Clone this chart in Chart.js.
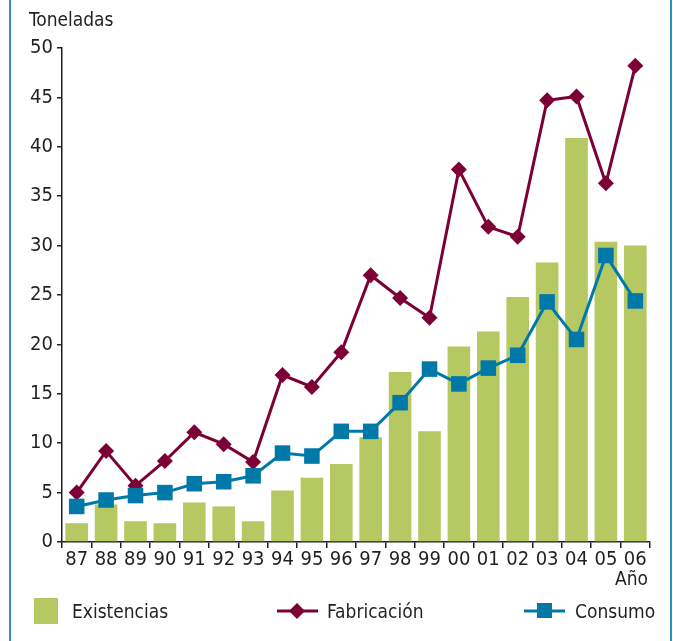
<!DOCTYPE html>
<html>
<head>
<meta charset="utf-8">
<script src="https://cdn.jsdelivr.net/npm/chart.js@4.4.1/dist/chart.umd.min.js"></script>
<style>
  html, body { margin:0; padding:0; background:#fff; }
  #wrap { position:relative; width:673px; height:641px; overflow:hidden; font-family:'Liberation Sans Narrow','DejaVu Sans Condensed',sans-serif; color:#231f20; }
  #c { position:absolute; left:0; top:0; }
  .frame { position:absolute; top:0; width:2px; height:641px; background:#2e8fbd; }
  .txt { position:absolute; white-space:nowrap; font-size:19px; line-height:1; }
</style>
</head>
<body>
<div id="wrap">
  <canvas id="c" width="673" height="641"></canvas>
  <div class="frame" style="left:9px"></div>
  <div class="frame" style="left:670px"></div>
  <div class="txt" id="ytitle" style="left:29px; top:10px;">Toneladas</div>
  <div class="txt" id="xtitle" style="right:25px; top:569px;">Año</div>
  <div class="txt" style="left:34px; top:598px; width:24px; height:26px; background:#b5c862;"></div>
  <div class="txt" style="left:72px; top:602px;">Existencias</div>
  <svg style="position:absolute; left:276px; top:601px;" width="44" height="20">
    <line x1="1" y1="10" x2="42" y2="10" stroke="#7c0036" stroke-width="3"/>
    <polygon points="21,2 29,10 21,18 13,10" fill="#7c0036"/>
  </svg>
  <div class="txt" style="left:327px; top:602px;">Fabricación</div>
  <svg style="position:absolute; left:523px; top:601px;" width="44" height="20">
    <line x1="1" y1="10" x2="42" y2="10" stroke="#0079a8" stroke-width="3"/>
    <rect x="14" y="2" width="15" height="15" fill="#0079a8"/>
  </svg>
  <div class="txt" style="left:575px; top:602px;">Consumo</div>
</div>
<script>
const years = ['87','88','89','90','91','92','93','94','95','96','97','98','99','00','01','02','03','04','05','06'];
const existencias = [1.9,3.8,2.1,1.9,4.0,3.6,2.1,5.2,6.5,7.9,10.6,17.2,11.2,19.8,21.3,24.8,28.3,40.9,30.4,30.0];
const fabricacion = [5.0,9.2,5.7,8.2,11.1,9.9,8.1,16.9,15.7,19.2,27.0,24.7,22.7,37.7,31.9,30.9,44.7,45.1,36.3,48.2];
const consumo = [3.6,4.25,4.7,5.0,5.9,6.1,6.7,9.0,8.7,11.2,11.2,14.1,17.5,16.0,17.6,18.9,24.3,20.5,29.0,24.4];
const yTicks = [0,5,10,15,20,25,30,35,40,45,50];

const FONT = "'Liberation Sans Narrow','DejaVu Sans Condensed',sans-serif";
const AXIS = '#231f20';

new Chart(document.getElementById('c'), {
  type: 'bar',
  data: {
    labels: years,
    datasets: [
      { type:'line', label:'Consumo', data: consumo, borderColor:'#0079a8', backgroundColor:'#0079a8',
        borderWidth:3, pointStyle:'rect', pointRadius:11, pointBorderWidth:0, order:1, tension:0 },
      { type:'line', label:'Fabricación', data: fabricacion, borderColor:'#7c0036', backgroundColor:'#7c0036',
        borderWidth:3, pointStyle:'rectRot', pointRadius:8, pointBorderWidth:0, order:2, tension:0 },
      { type:'bar', label:'Existencias', data: existencias, backgroundColor:'#b5c862',
        categoryPercentage:1.0, barPercentage:0.77, order:3 }
    ]
  },
  options: {
    responsive:false,
    animation:false,
    layout:{ padding:{ left:0, right:23, top:48, bottom:69 } },
    plugins:{ legend:{ display:false }, tooltip:{ enabled:false } },
    scales:{
      x:{
        offset:true,
        grid:{ offset:true, drawOnChartArea:false, drawTicks:true, tickLength:6, color:AXIS, lineWidth:1.5 },
        border:{ color:AXIS, width:1.5 },
        ticks:{ color:AXIS, font:{ family:FONT, size:20 }, padding:0, maxRotation:0, autoSkip:false },
        afterFit(s){ s.height = 30; }
      },
      y:{
        min:0, max:50,
        afterBuildTicks(s){ s.ticks = yTicks.map(v => ({ value:v })); },
        grid:{ drawOnChartArea:false, drawTicks:true, tickLength:5, color:AXIS, lineWidth:1.5 },
        border:{ color:AXIS, width:1.5 },
        ticks:{ color:AXIS, font:{ family:FONT, size:20 }, padding:4 },
        afterFit(s){ s.width = 62; }
      }
    }
  }
});
</script>
</body>
</html>
